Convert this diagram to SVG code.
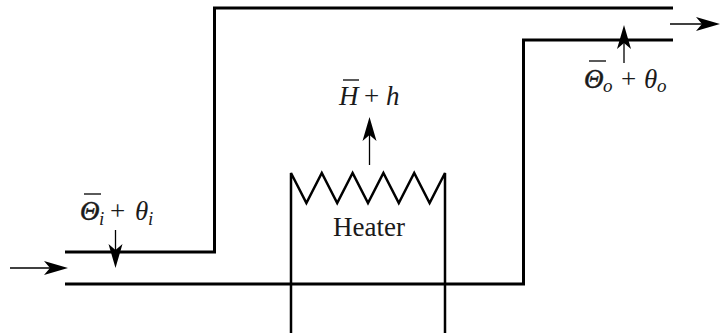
<svg xmlns="http://www.w3.org/2000/svg" width="720" height="335" viewBox="0 0 720 335">
<style>
.pipe{fill:none;stroke:#000;stroke-width:3;stroke-linejoin:miter}
.coil{fill:none;stroke:#000;stroke-width:2.500;stroke-linejoin:miter}
.thin{fill:none;stroke:#000;stroke-width:1.300}
.head{fill:#000;stroke:none}
.bar{stroke:#000;stroke-width:1.300;fill:none}
text{font-family:"Liberation Serif","Times New Roman",serif;fill:#1a1a1a}
.lab{font-size:27px}
.heavy{stroke:#1a1a1a;stroke-width:.5}
.sub{font-size:19px;font-style:italic}
.it{font-style:italic}
</style>
<defs>
<path id="ah" class="head" d="M0,0 L-24,-7 L-18,0 L-24,7 Z"/>
</defs>
<rect width="720" height="335" fill="#fff"/>
<g id="connectors">
<path id="pipe-upper" class="pipe" d="M65,252 H214.500 V8 H673"/>
<path id="pipe-lower" class="pipe" d="M65,284 H523.500 V40 H673"/>
<path id="inlet-arrow" class="thin" d="M10,268 H55"/>
<use href="#ah" transform="translate(68,268)"/>
<path id="outlet-arrow" class="thin" d="M670,24 H708"/>
<use href="#ah" transform="translate(720,24)"/>
<path id="theta-i-arrow" class="thin" d="M115.500,230 V255"/>
<use href="#ah" transform="translate(115.500,268) rotate(90)"/>
<path id="theta-o-arrow" class="thin" d="M624,63 V38"/>
<use href="#ah" transform="translate(624,25) rotate(-90)"/>
<path id="heat-arrow" class="thin" d="M369.500,165 V130"/>
<use href="#ah" transform="translate(369.500,117) rotate(-90)"/>
</g>
<g id="heater">
<path class="coil" d="M291,333 V173 L306.400,203 L321.800,173 L337.200,203 L352.600,173 L368,203 L383.400,173 L398.800,203 L414.200,173 L429.600,203 L445,173 V333"/>
<text x="369" y="236" text-anchor="middle" style="font-size:27px">Heater</text>
</g>
<g id="label-theta-i">
<path class="bar" d="M84,194 H101"/>
<text class="lab it heavy" x="80" y="220">Θ</text>
<text class="sub" x="99" y="225">i</text>
<text class="lab" x="110" y="220">+</text>
<text class="lab it" x="135" y="220">θ</text>
<text class="sub" x="148" y="225">i</text>
</g>
<g id="label-heat">
<path class="bar" d="M343,80 H359"/>
<text class="lab it" x="339" y="105">H</text>
<text class="lab" x="364" y="105">+</text>
<text class="lab it" x="386" y="105">h</text>
</g>
<g id="label-theta-o">
<path class="bar" d="M589,61 H606"/>
<text class="lab it heavy" x="584" y="88">Θ</text>
<text class="sub" x="603" y="92">o</text>
<text class="lab" x="621" y="88">+</text>
<text class="lab it" x="644" y="88">θ</text>
<text class="sub" x="657" y="92">o</text>
</g>
</svg>
